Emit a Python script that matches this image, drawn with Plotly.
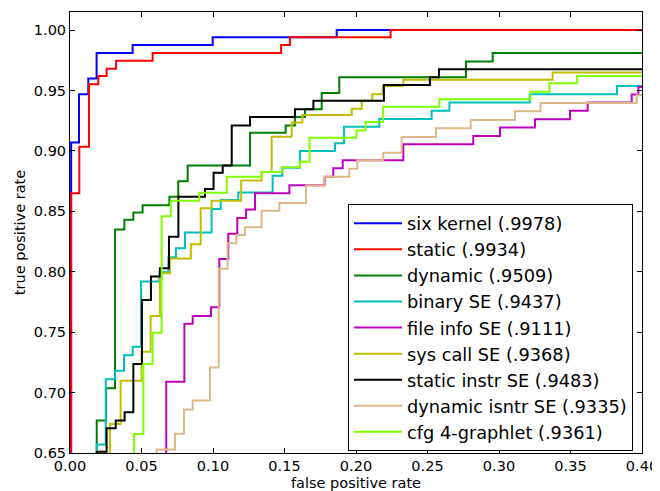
import plotly.graph_objects as go

# ---- data ----
names = ["six kernel (.9978)", "static (.9934)", "dynamic (.9509)", "binary SE (.9437)",
         "file info SE (.9111)", "sys call SE (.9368)", "static instr SE (.9483)",
         "dynamic isntr SE (.9335)", "cfg 4-graphlet (.9361)"]
colors = ["#0000ff", "#ff0000", "#008000", "#00bfbf", "#bf00bf", "#bfbf00", "#000000",
          "#deb887", "#7fff00"]

six_fpr = [0.0008, 0.0008, 0.0063, 0.0128, 0.0186, 0.0438, 0.0998, 0.1865, 0.41]
six_tpr = [0.60, 0.907, 0.947, 0.960, 0.981, 0.9876, 0.994, 1.0, 1.0]

static_fpr = [0.0008, 0.0008, 0.0065, 0.0133, 0.0198, 0.0256, 0.0322, 0.0578, 0.1476, 0.1538, 0.2242, 0.41]
static_tpr = [0.60, 0.865, 0.9034, 0.9553, 0.962, 0.968, 0.9746, 0.981, 0.9876, 0.994, 1.0, 1.0]

dynamic_fpr = [0.0187, 0.0187, 0.0252, 0.0315, 0.038, 0.0443, 0.0508, 0.0695, 0.0757, 0.0823, 0.1259,
               0.1508, 0.1573, 0.1643, 0.176, 0.1883, 0.2769, 0.2956, 0.41]
dynamic_tpr = [0.60, 0.677, 0.7035, 0.835, 0.843, 0.849, 0.855, 0.862, 0.875, 0.888, 0.915,
               0.921, 0.928, 0.9346, 0.948, 0.961, 0.974, 0.981, 0.981]

binary_fpr = [0.0187, 0.0187, 0.025, 0.0315, 0.0378, 0.0438, 0.0497, 0.0625, 0.0688, 0.0741, 0.0804,
              0.099, 0.1054, 0.1177, 0.1417, 0.1485, 0.1608, 0.1853, 0.1916, 0.2163, 0.2529, 0.2653,
              0.3215, 0.3825, 0.41]
binary_tpr = [0.60, 0.657, 0.711, 0.718, 0.731, 0.738, 0.792, 0.7995, 0.812, 0.8194, 0.8326,
              0.852, 0.8593, 0.8657, 0.8795, 0.886, 0.900, 0.9063, 0.920, 0.9264, 0.9333, 0.940,
              0.947, 0.9537, 0.9537]

fileinfo_fpr = [0.0673, 0.0673, 0.0800, 0.0858, 0.0986, 0.1044, 0.1107, 0.117, 0.1231, 0.1294, 0.1534,
                0.178, 0.1841, 0.1907, 0.2331, 0.282, 0.3007, 0.3252, 0.3497, 0.362, 0.3928, 0.3975, 0.41]
fileinfo_tpr = [0.60, 0.709, 0.757, 0.7634, 0.7706, 0.8105, 0.8315, 0.8445, 0.8516, 0.865, 0.8717,
                0.8786, 0.8856, 0.8924, 0.9056, 0.9123, 0.9194, 0.9262, 0.9332, 0.940, 0.9468, 0.953, 0.953]

syscall_fpr = [0.028, 0.028, 0.0354, 0.0501, 0.0564, 0.0629, 0.0699, 0.0845, 0.0914, 0.099, 0.1197,
               0.134, 0.141, 0.155, 0.1625, 0.197, 0.204, 0.2114, 0.2187, 0.2331, 0.3375, 0.41]
syscall_tpr = [0.60, 0.674, 0.7098, 0.7338, 0.7634, 0.7987, 0.811, 0.8227, 0.8525, 0.8588, 0.8755,
               0.8825, 0.9118, 0.9235, 0.9297, 0.935, 0.9415, 0.947, 0.9537, 0.959, 0.965, 0.965]

sinstr_fpr = [0.0187, 0.0187, 0.0256, 0.032, 0.0382, 0.0443, 0.0503, 0.0566, 0.0629, 0.0692, 0.0758,
              0.0944, 0.1004, 0.1068, 0.1131, 0.1259, 0.1573, 0.1702, 0.2195, 0.2517, 0.258, 0.41]
sinstr_tpr = [0.60, 0.651, 0.6704, 0.677, 0.6837, 0.7236, 0.7766, 0.796, 0.803, 0.829, 0.862,
              0.8685, 0.882, 0.888, 0.921, 0.928, 0.9346, 0.9415, 0.9545, 0.961, 0.9677, 0.9677]

dinstr_fpr = [0.0606, 0.0606, 0.0734, 0.0797, 0.0858, 0.0979, 0.104, 0.1102, 0.1164, 0.1224, 0.134,
              0.1464, 0.165, 0.1776, 0.1953, 0.2009, 0.2191, 0.2319, 0.2559, 0.2802, 0.3112, 0.3291,
              0.3963, 0.41]
dinstr_tpr = [0.60, 0.653, 0.666, 0.686, 0.6935, 0.7208, 0.8025, 0.8235, 0.8304, 0.8368, 0.8505,
              0.857, 0.8715, 0.8786, 0.8853, 0.8924, 0.8985, 0.9115, 0.9187, 0.9257, 0.9328, 0.9397,
              0.946, 0.946]

cfg_fpr = [0.0448, 0.0448, 0.0513, 0.0578, 0.0641, 0.0704, 0.0904, 0.1096, 0.134, 0.148, 0.1608,
           0.1675, 0.2003, 0.2066, 0.219, 0.2583, 0.3221, 0.3352, 0.3545, 0.41]
cfg_tpr = [0.60, 0.6657, 0.7236, 0.7495, 0.846, 0.8588, 0.8654, 0.8786, 0.8825, 0.8865, 0.891,
           0.911, 0.917, 0.924, 0.9365, 0.9427, 0.949, 0.956, 0.962, 0.962]

x_ticks = [0.00, 0.05, 0.10, 0.15, 0.20, 0.25, 0.30, 0.35, 0.40]
y_ticks = [0.65, 0.70, 0.75, 0.80, 0.85, 0.90, 0.95, 1.00]

series = [(six_fpr, six_tpr), (static_fpr, static_tpr), (dynamic_fpr, dynamic_tpr),
          (binary_fpr, binary_tpr), (fileinfo_fpr, fileinfo_tpr), (syscall_fpr, syscall_tpr),
          (sinstr_fpr, sinstr_tpr), (dinstr_fpr, dinstr_tpr), (cfg_fpr, cfg_tpr)]

FONT = "DejaVu Sans"
fig = go.Figure()
for i, ((fx, ty), name, col) in enumerate(zip(series, names, colors)):
    fig.add_trace(go.Scatter(x=fx, y=ty, mode="lines", name=name, legendgroup=f"g{i}",
                             line=dict(color=col, width=2, shape="hv")))

axis_common = dict(showgrid=False, zeroline=False, showline=True, linecolor="black",
                   linewidth=1, mirror="ticks", ticks="inside", ticklen=5, tickcolor="black",
                   automargin=False,
                   tickfont=dict(family=FONT, size=14.5, color="black"))

fig.update_xaxes(range=[0, 0.4], tickvals=x_ticks, ticktext=[f"{v:.2f}" for v in x_ticks],
                 title=dict(text="false positive rate", font=dict(family=FONT, size=14.5, color="black"),
                            standoff=4), **axis_common)
fig.update_yaxes(range=[0.65, 1.015], tickvals=y_ticks, ticktext=[f"{v:.2f}" for v in y_ticks],
                 title=dict(text="true positive rate", font=dict(family=FONT, size=14.5, color="black"),
                            standoff=4), **axis_common)

# the page body adds an 8px margin, so the figure is sized to fit the 660x491 window
fig.update_layout(
    width=652, height=483,
    margin=dict(l=62, r=18, t=4, b=38),
    paper_bgcolor="white", plot_bgcolor="white",
    font=dict(family=FONT, color="black"),
    legend=dict(x=0.9843, y=0.004, xanchor="right", yanchor="bottom",
                bgcolor="white", bordercolor="black", borderwidth=1,
                font=dict(family=FONT, size=17.75, color="black"),
                itemwidth=48, tracegroupgap=0, traceorder="grouped"),
    showlegend=True,
)

fig.write_html("out.html")
